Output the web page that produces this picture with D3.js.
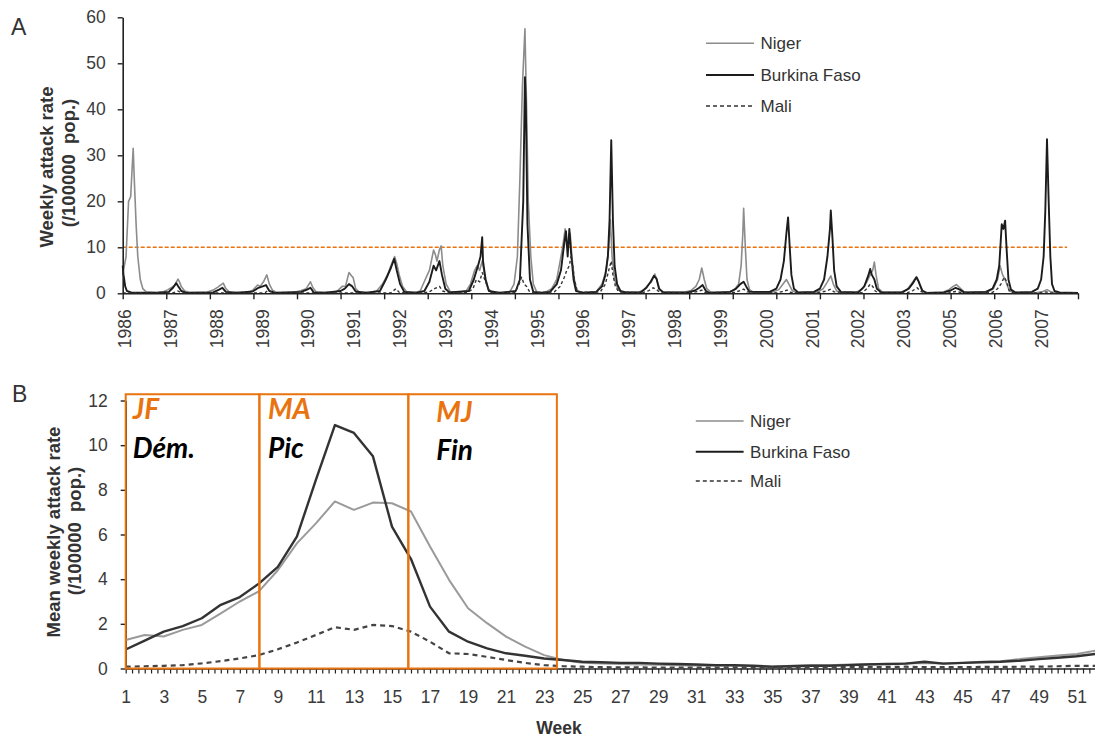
<!DOCTYPE html>
<html><head><meta charset="utf-8">
<script src="https://cdn.jsdelivr.net/npm/d3@7"></script>
<style>
body{margin:0;background:#fff;}
svg{display:block;font-family:"Liberation Sans",Arial,sans-serif;}
</style></head>
<body><svg id="c" width="1095" height="737"></svg>
<script>
// ---------- DATA ----------
const seriesNames = ["Niger", "Burkina Faso", "Mali"];
// Panel A: weekly attack rate, [week index since start of 1986, rate]
const nigerA = [[0,4],[4,8],[7,20],[9.5,21],[12.5,31.5],[14,24],[16,15],[18,8],[21,3],[24,1],[28,0.3],[40,0.2],
[48,0.3],[54,0.8],[58,1.2],[62,1.8],[66,3.1],[68,2.4],[70,1.4],[74,0.5],[80,0.2],
[100,0.2],[108,0.7],[114,1.4],[120,2.2],[123,1.0],[127,0.3],[140,0.2],
[150,0.2],[156,0.8],[161,1.8],[164,1.5],[168,2.5],[172,4.0],[175,2.0],[179,0.6],[184,0.2],
[205,0.2],[213,0.6],[219,1.0],[224,2.5],[227,1.2],[231,0.3],[245,0.2],
[255,0.3],[262,1.5],[266,1.6],[270,4.5],[273,3.8],[275,3.4],[278,1.0],[282,0.3],[295,0.2],
[303,0.5],[310,2],[316,4],[320,6],[324.5,8],[327,6.5],[330,4],[334,1.5],[339,0.3],[350,0.2],
[355,0.5],[361,3],[366,5],[371,9.4],[373,8.5],[375,7],[378,9.5],[380,10.3],[382,6],[386,2],[391,0.3],[400,0.2],
[410,0.5],[415,2],[420,5],[423,6],[426,5],[429,7],[432,4],[436,1],[441,0.2],[455,0.2],
[462,0.3],[467,2],[471,8],[474,25],[477,45],[480,57.5],[482,40],[484,20],[487,8],[490,2],[494,0.3],[500,0.2],
[505,0.3],[512,1],[518,3],[522,7],[525,10],[528,14],[530,10],[532,11],[534,13],[536,8],[539,3],[542,0.5],[548,0.2],
[565,0.3],[572,2],[577,5],[580,10],[582,16],[584,8],[587,3],[591,0.8],[596,0.2],
[615,0.2],[622,0.8],[627,1.8],[631,2.5],[635,4.2],[638,2.5],[641,0.8],[646,0.2],
[670,0.2],[678,0.6],[684,1.5],[688,3],[691,5.5],[694,3],[697,1],[702,0.2],
[722,0.2],[730,0.8],[735,2],[738,6],[740,13],[741,18.5],[743,10],[745,3],[748,0.8],[753,0.2],
[775,0.2],[783,0.8],[788,2],[792,3],[795,2],[799,0.6],[804,0.1],
[828,0.2],[836,1],[841,2.5],[845,3.8],[848,2],[852,0.5],[857,0.1],
[875,0.2],[883,1],[888,2.5],[892,4],[895,5],[897,6.8],[899,4],[902,1],[907,0.2],
[928,0.2],[936,0.8],[941,2],[945,3],[948,3.5],[951,2],[955,0.5],[960,0.1],
[978,0.2],[986,0.8],[991,1.5],[995,1.9],[999,1.2],[1004,0.3],[1010,0.1],
[1032,0.3],[1039,1],[1044,3],[1047,6],[1050,4],[1053,3],[1055,2],[1058,0.6],[1063,0.1],
[1090,0.1],[1098,0.4],[1103,0.8],[1107,0.4],[1112,0.1],[1140,0.1]];
const burkinaA = [[0,6],[1,4],[3,1.5],[5,0.5],[10,0.2],[40,0.1],
[55,0.3],[60,1.2],[64,2.2],[66,1.6],[70,0.5],[76,0.1],
[108,0.2],[115,0.8],[119,1.2],[123,0.3],[135,0.1],
[155,0.4],[162,1.2],[167,1.5],[171,1.8],[175,0.5],[182,0.1],
[213,0.3],[220,0.8],[224,1.2],[228,0.2],[240,0.1],
[260,0.5],[265,1.0],[270,2.0],[274,1.5],[278,0.4],[290,0.1],
[307,0.5],[314,3],[320,5.5],[324,7.5],[327,5],[331,2],[336,0.3],[350,0.1],
[360,0.5],[366,2.5],[371,6],[374,5],[378,7],[381,4],[385,1],[390,0.2],
[413,0.5],[419,3],[424,6],[427,8],[429,12.2],[430,7],[433,3],[437,0.5],[450,0.1],
[469,0.5],[474,3],[478,20],[480,47],[481,42],[483,15],[486,3],[490,0.3],[500,0.1],
[510,0.3],[518,2],[523,5],[527,11],[529,13.5],[531,8],[533,14],[535,9],[538,3],[541,0.5],[550,0.1],
[565,0.3],[572,1.5],[576,4],[579,8],[581,16],[583,33.3],[585,16],[587,6],[590,2],[594,0.5],[600,0.2],
[618,0.2],[625,1.2],[630,2.5],[634,3.8],[637,3.2],[640,1],[645,0.2],
[675,0.2],[683,0.6],[688,1.2],[692,1.8],[696,0.5],[700,0.1],
[725,0.3],[732,1],[737,2],[741,2.5],[744,1.5],[748,0.3],
[772,0.3],[780,1],[785,3],[789,7],[792,13],[794,16.5],[796,10],[798,4],[801,1],[806,0.2],
[825,0.3],[832,1],[837,3],[841,8],[844,14],[845,18],[847,12],[849,5],[852,1.5],[857,0.3],
[878,0.2],[885,1.5],[890,4],[892,5.3],[894,4],[897,3],[900,1],[905,0.2],
[930,0.2],[938,1],[943,2.2],[947,3.5],[950,2.5],[954,0.6],[959,0.1],
[980,0.2],[988,0.6],[994,1.2],[999,0.8],[1004,0.2],
[1030,0.3],[1038,1],[1043,3],[1046,6],[1048,12],[1049,15],[1051,14],[1053,15.8],[1055,9],[1057,3],[1060,0.8],[1065,0.2],
[1085,0.3],[1092,1],[1096,3],[1099,8],[1101,18],[1103,33.5],[1105,20],[1107,8],[1109,2],[1112,0.5],[1118,0.2],[1140,0.1]];
const maliA = [[0,0.1],[60,0.1],[66,0.5],[70,0.1],[170,0.1],[174,0.8],[178,0.1],[320,0.1],[326,1],[330,0.2],
[365,0.2],[372,1],[378,1.5],[382,0.5],[388,0.1],
[412,0.2],[418,1],[422,3],[426,2.5],[429,4.5],[432,3],[436,1],[440,0.1],
[468,0.2],[472,1.5],[476,3.5],[479,2],[482,1.5],[485,0.5],[490,0.1],
[515,0.3],[522,1.5],[527,3.5],[530,5],[533,6],[535,8],[537,6],[539,3],[542,0.8],[546,0.2],
[570,0.3],[576,2],[580,5],[583,7],[585,4],[588,1.5],[592,0.3],
[620,0.1],[628,0.6],[633,1.2],[637,0.8],[641,0.2],
[678,0.1],[686,0.4],[691,0.7],[695,0.2],
[730,0.2],[737,0.6],[741,0.9],[745,0.3],
[780,0.1],[788,0.4],[793,0.7],[797,0.2],
[832,0.2],[840,0.5],[845,0.9],[849,0.3],
[882,0.1],[888,1],[892,2],[895,1.5],[898,0.5],[902,0.1],
[936,0.1],[943,0.6],[948,1.2],[952,0.4],[957,0.1],
[985,0.05],[994,0.4],[1000,0.2],
[1038,0.2],[1044,1],[1048,2],[1052,3.5],[1055,2.5],[1058,0.5],[1062,0.1],
[1092,0.05],[1102,0.3],[1108,0.1],[1140,0.05]];
const yearLabelsA = ["1986","1987","1988","1989","1990","1991","1992","1993","1994","1995","1996","1997","1998","1999","2000","2001","2002","2003","2005","2006","2007"];
const yTicksA = [0,10,20,30,40,50,60];
const thresholdA = 10;

// Panel B: mean weekly attack rate by week of year
const weeksB = [1,2,3,4,5,6,7,8,9,10,11,12,13,14,15,16,17,18,19,20,21,22,23,24,25,26,27,28,29,30,31,32,33,34,35,36,37,38,39,40,41,42,43,44,45,46,47,48,49,50,51,52];
const nigerB = [1.28,1.5,1.43,1.73,1.95,2.47,3.0,3.45,4.4,5.6,6.5,7.48,7.1,7.43,7.4,7.03,5.46,3.97,2.7,2.03,1.43,0.98,0.6,0.38,0.26,
0.22,0.2,0.18,0.17,0.15,0.13,0.12,0.12,0.1,0.08,0.12,0.15,0.15,0.18,0.2,0.2,0.22,0.25,0.22,0.25,0.3,0.32,0.42,0.5,0.58,0.65,0.8];
const burkinaB = [0.85,1.25,1.65,1.9,2.25,2.85,3.2,3.8,4.55,5.9,8.45,10.9,10.55,9.5,6.35,4.9,2.77,1.65,1.2,0.9,0.68,0.57,0.45,0.38,0.3,
0.28,0.25,0.25,0.22,0.2,0.18,0.15,0.15,0.12,0.08,0.1,0.12,0.12,0.15,0.18,0.2,0.22,0.3,0.22,0.25,0.28,0.3,0.35,0.42,0.48,0.55,0.65];
const maliB = [0.08,0.1,0.12,0.15,0.23,0.33,0.45,0.6,0.86,1.16,1.5,1.85,1.73,1.95,1.9,1.65,1.2,0.68,0.65,0.52,0.38,0.25,0.15,0.1,0.08,
0.06,0.05,0.05,0.04,0.04,0.04,0.04,0.05,0.03,0.04,0.05,0.05,0.06,0.06,0.06,0.07,0.08,0.06,0.06,0.06,0.07,0.07,0.08,0.08,0.1,0.12,0.12];
const xLabelsB = [1,3,5,7,9,11,13,15,17,19,21,23,25,27,29,31,33,35,37,39,41,43,45,47,49,51];
const yTicksB = [0,2,4,6,8,10,12];
const seasonStart = [1, 8.03, 15.86];
const seasonEnd = [8.03, 15.86, 23.67];
const seasonCodes = ["JF","MA","MJ"];
const seasonNames = ["Dém.","Pic","Fin"];

// ---------- DRAW ----------
const svg = d3.select("#c");
svg.append("rect").attr("width",1095).attr("height",737).attr("fill","#fff");
const ORANGE = "#E8730F";
const FONT = "'Liberation Sans',Arial,sans-serif";
const styles = [
  {stroke:"#8c8c8c", w:1.6, dash:null},
  {stroke:"#1c1c1c", w:1.9, dash:null},
  {stroke:"#333", w:1.4, dash:"3,2.5"}
];

function styleAxis(g, fs){
  g.selectAll("path.domain").attr("stroke","#222").attr("stroke-width",1.6);
  g.selectAll(".tick line").attr("stroke","#222").attr("stroke-width",1.4);
  g.selectAll("text").attr("fill","#3a3a3a").style("font-size",fs+"px").style("font-family",FONT);
}

// ===== Panel A =====
const xA = d3.scaleLinear().domain([0,1140]).range([122.7,1078]);
const yA = d3.scaleLinear().domain([0,60]).range([293.3,17.3]);
const gA = svg.append("g");

gA.append("line").attr("x1",xA(0)).attr("x2",xA(1127)).attr("y1",yA(thresholdA)).attr("y2",yA(thresholdA))
  .attr("stroke",ORANGE).attr("stroke-width",1.5).attr("stroke-dasharray","4,2");

const lineA = d3.line().x(d=>xA(d[0])).y(d=>yA(d[1]));
[nigerA, burkinaA, maliA].forEach((s,i)=>{
  gA.append("path").datum(s).attr("d",lineA).attr("fill","none")
    .attr("stroke",styles[i].stroke).attr("stroke-width",styles[i].w)
    .attr("stroke-dasharray",styles[i].dash).attr("stroke-linejoin","round");
});

const yAxA = gA.append("g").attr("transform",`translate(${xA(0)},0)`)
  .call(d3.axisLeft(yA).tickValues(yTicksA).tickSize(5).tickPadding(12).tickSizeOuter(0));
styleAxis(yAxA,17.5);
const tickWeeks = d3.range(0,1093,52).concat([1140]);
const xAxA = gA.append("g").attr("transform",`translate(0,${yA(0)})`)
  .call(d3.axisBottom(xA).tickValues(tickWeeks).tickSize(6).tickFormat("").tickSizeOuter(0));
styleAxis(xAxA,17);
// rotated year labels
gA.append("g").selectAll("text").data(yearLabelsA).join("text")
  .attr("transform",(d,i)=>`translate(${xA(i*54.7)+2},${yA(0)+16}) rotate(-90)`)
  .attr("text-anchor","end").attr("dy","0.36em")
  .attr("font-size",17.5).attr("font-family",FONT).attr("fill","#3a3a3a").text(d=>d);

const ytA = gA.append("g").attr("font-weight","bold").attr("font-size",18.5).attr("fill","#333").attr("text-anchor","middle");
ytA.append("text").attr("transform","translate(46.5,167) rotate(-90)").attr("dy","0.36em").text("Weekly attack rate");
ytA.append("text").attr("transform","translate(68.5,163) rotate(-90)").attr("dy","0.36em").style("white-space","pre").text("(/100000  pop.)");
gA.append("text").attr("x",11).attr("y",35).attr("font-size",23).attr("fill","#333").text("A");

function legend(g, x0, x1, ys){
  seriesNames.forEach((n,i)=>{
    g.append("line").attr("x1",x0).attr("x2",x1).attr("y1",ys[i]).attr("y2",ys[i])
      .attr("stroke",styles[i].stroke).attr("stroke-width",i===1?2:1.6)
      .attr("stroke-dasharray",i===2?"4,3":null);
    g.append("text").attr("x",x1+6.5).attr("y",ys[i]).attr("dy","0.35em")
      .attr("font-size",17).attr("fill","#333").text(n);
  });
}
legend(gA, 706, 754, [43.3, 75, 106]);

// ===== Panel B =====
const xB = d3.scaleLinear().domain([1,52]).range([125.7,1095.7]);
const yB = d3.scaleLinear().domain([0,12]).range([668.5,400.5]);
const gB = svg.append("g");

const yAxB = gB.append("g").attr("transform",`translate(${xB(1)},0)`)
  .call(d3.axisLeft(yB).tickValues(yTicksB).tickSize(5).tickPadding(13).tickSizeOuter(0));
styleAxis(yAxB,17.5);
const minorB = d3.range(0,154).map(i=>1+i/3);
const xAxB = gB.append("g").attr("transform",`translate(0,${yB(0)})`)
  .call(d3.axisBottom(xB).tickValues(minorB).tickSize(5).tickFormat("").tickSizeOuter(0));
styleAxis(xAxB,17);
xAxB.selectAll(".tick line").attr("stroke-width",1.2);
const xLabB = gB.append("g").attr("transform",`translate(0,${yB(0)})`)
  .call(d3.axisBottom(xB).tickValues(xLabelsB).tickSize(0).tickPadding(22).tickFormat(d3.format("d")));
xLabB.select("path.domain").remove();
styleAxis(xLabB,17.5);

gB.append("text").attr("x",559).attr("y",734).attr("text-anchor","middle").attr("font-weight","bold")
  .attr("font-size",17.5).attr("fill","#333").text("Week");

const ytB = gB.append("g").attr("font-weight","bold").attr("font-size",18.5).attr("fill","#333").attr("text-anchor","middle");
ytB.append("text").attr("transform","translate(53.6,532) rotate(-90)").attr("dy","0.36em").text("Mean weekly attack rate");
ytB.append("text").attr("transform","translate(74.6,531) rotate(-90)").attr("dy","0.36em").style("white-space","pre").text("(/100000  pop.)");
gB.append("text").attr("x",12).attr("y",402).attr("font-size",23).attr("fill","#333").text("B");

const stylesB = [
  {stroke:"#9a9a9a", w:2, dash:null},
  {stroke:"#333", w:2.4, dash:null},
  {stroke:"#444", w:2.2, dash:"5,4"}
];
const lineB = d3.line().x((d,i)=>xB(weeksB[i])).y(d=>yB(d));
[nigerB, burkinaB, maliB].forEach((s,i)=>{
  gB.append("path").datum(s).attr("d",lineB).attr("fill","none")
    .attr("stroke",stylesB[i].stroke).attr("stroke-width",stylesB[i].w)
    .attr("stroke-dasharray",stylesB[i].dash).attr("stroke-linejoin","round");
});

const boxTop = 12.28;
const codeDx = [7, 8.5, 28];
seasonStart.forEach((s,i)=>{
  gB.append("rect").attr("x",xB(s)).attr("y",yB(boxTop))
    .attr("width",xB(seasonEnd[i])-xB(s)).attr("height",yB(0)-yB(boxTop))
    .attr("fill","none").attr("stroke",ORANGE).attr("stroke-width",2);
  gB.append("text").attr("x",xB(s)+codeDx[i]).attr("y",419+(i===2?2.5:0))
    .attr("font-family","Lato,'Open Sans',sans-serif").attr("font-weight","bold").attr("font-style","italic")
    .attr("font-size",28).attr("fill",ORANGE).text(seasonCodes[i]);
  gB.append("text").attr("x",xB(s)+codeDx[i]).attr("y",458+(i===2?2:0))
    .attr("font-family","Lato,'Open Sans',sans-serif").attr("font-weight","bold").attr("font-style","italic")
    .attr("font-size",28).attr("fill","#000").text(seasonNames[i]);
});

legend(gB, 695.8, 743.6, [421, 451.7, 481]);
</script></body></html>
